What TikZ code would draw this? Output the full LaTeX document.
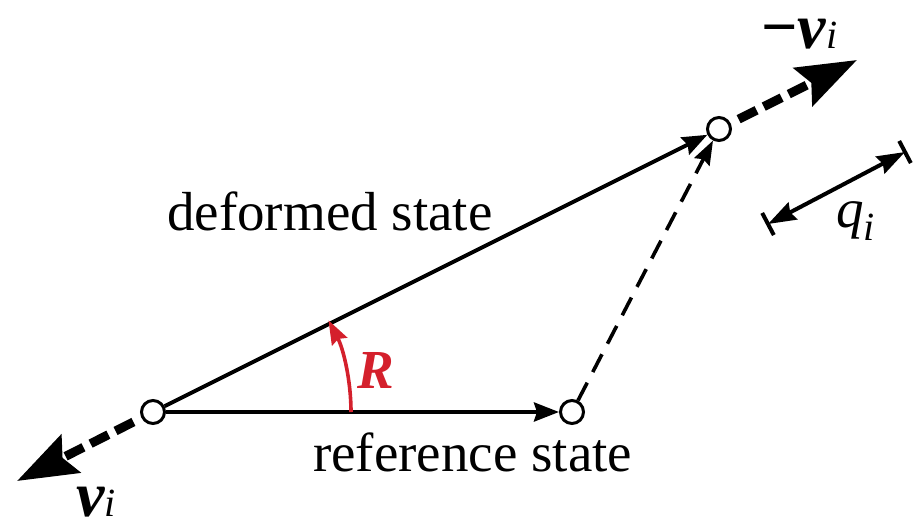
\documentclass[tikz,border=0pt]{standalone}
\usepackage{fontspec}
\setmainfont{Liberation Serif}
\usetikzlibrary{arrows.meta,calc}
\definecolor{rred}{RGB}{212,32,44}
\tikzset{
  pt/.style={circle,draw,line width=3pt,fill=white,minimum size=23pt,inner sep=0pt},
  mainline/.style={line width=4pt,-{Stealth[length=25pt,width=19pt,inset=3pt]}},
  thinDashed/.style={line width=3.6pt,dash pattern=on 20pt off 12pt,-{Stealth[length=24pt,width=17pt,inset=3pt]}},
  thickDashed/.style={line width=9pt,dash pattern=on 20pt off 8pt,-{Stealth[length=60pt,width=42pt,inset=9pt]}},
  dimline/.style={line width=4pt,{Stealth[length=28pt,width=19pt,inset=3pt]}-{Stealth[length=28pt,width=19pt,inset=3pt]}},
  barline/.style={line width=4pt},
  lbl/.style={font=\fontsize{55}{60}\selectfont,inner sep=0pt},
}
\newcommand{\bvec}[2]{{\fontsize{64}{70}\selectfont\bfseries\itshape #1}{\fontsize{40}{44}\selectfont\itshape #2}}
\begin{document}
\begin{tikzpicture}[x=1pt,y=-1pt]
\useasboundingbox (0,0) rectangle (922,520);
% points
\node[pt] (A) at (153,412) {};
\node[pt] (B) at (572,412) {};
\node[pt] (C) at (719,129) {};
\coordinate (tipUR) at (857,60);
\coordinate (tipLL) at (17,481);
\coordinate (q1) at (768,224);
\coordinate (q2) at (905,152);
% main lines
\draw[mainline] (A) -- (C);
\draw[mainline] (A) -- (B);
\draw[thinDashed] (B) -- (C);
% thick dashed vectors
\draw[thickDashed] ($(C)!22pt!(tipUR)$) -- (tipUR);
\draw[thickDashed] ($(A)!22pt!(tipLL)$) -- (tipLL);
% rotation arc
\draw[rred,line width=3.6pt,-{Stealth[length=24pt,width=17pt,inset=3pt]}]
  ([shift={(0:198)}]A.center) arc[start angle=0,end angle=-27.6,radius=198];
\node[lbl,text=rred,font=\fontsize{55}{60}\selectfont\bfseries\itshape] (R) at (376,370) {R};
% dimension q_i
\draw[barline] ($(q1)!12.5pt!90:(q2)$) -- ($(q1)!12.5pt!-90:(q2)$);
\draw[barline] ($(q2)!12.5pt!90:(q1)$) -- ($(q2)!12.5pt!-90:(q1)$);
\draw[dimline] (q1) -- (q2);
\node[lbl,anchor=base west] (qlab) at (836,227) {\itshape q\raisebox{-13pt}{\fontsize{40}{44}\selectfont\itshape i}};
% labels
\node[lbl,anchor=base west] (def) at (167,230) {deformed state};
\node[lbl,anchor=base west] (ref) at (313,471) {reference state};
\node[inner sep=0pt,anchor=base west] (mv) at (761,48) {{\fontsize{64}{70}\selectfont\bfseries −}\bvec{v}{i}};
\node[inner sep=0pt,anchor=base west] (pv) at (76,516) {\bvec{v}{i}};
\end{tikzpicture}
\end{document}
